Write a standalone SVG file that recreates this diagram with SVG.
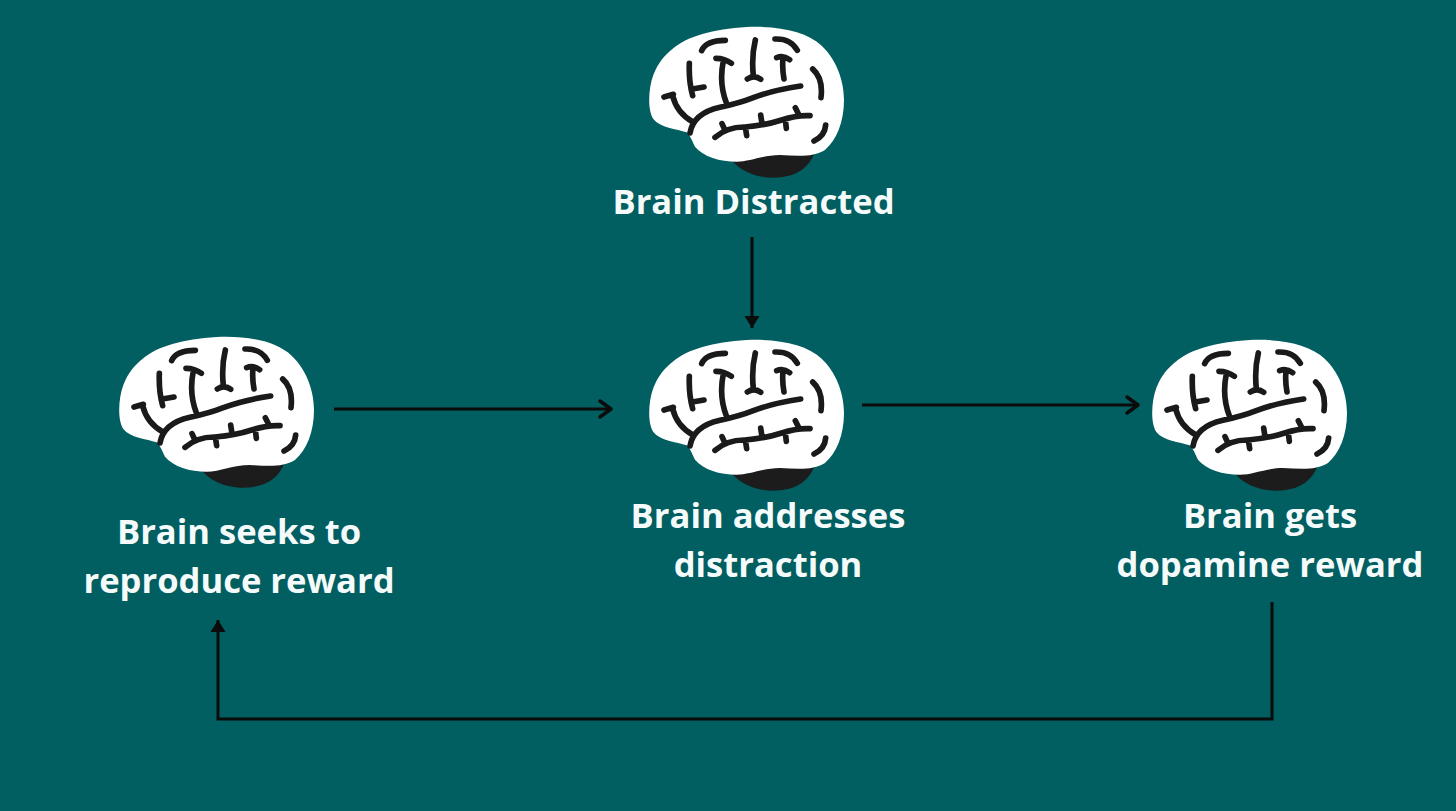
<svg xmlns="http://www.w3.org/2000/svg" xmlns:xlink="http://www.w3.org/1999/xlink" width="1456" height="811" viewBox="0 0 1456 811">
  <style>
    .bg { fill: #015e61; }
    .label { font-family: "Open Sans", "Noto Sans", "Liberation Sans", sans-serif; font-weight: 700; font-size: 34.6px; fill: #f5fbfb; text-anchor: middle; }
    .conn { fill: none; stroke: #0b0b0b; stroke-width: 3; stroke-linecap: butt; stroke-linejoin: miter; }
    .sulci { fill: none; stroke: #1a1a1a; stroke-width: 17; stroke-linecap: round; stroke-linejoin: round; }
  </style>
  <defs>
    <marker id="chevron" markerUnits="userSpaceOnUse" viewBox="-14 -10 16 20" refX="0" refY="0" markerWidth="16" markerHeight="20" orient="auto" overflow="visible">
      <path d="M-11,-8 L0,0 L-11,8" fill="none" stroke="#0b0b0b" stroke-width="3.5" stroke-linecap="round" stroke-linejoin="round"/>
    </marker>
    <marker id="tri" markerUnits="userSpaceOnUse" viewBox="-14 -10 16 20" refX="0" refY="0" markerWidth="16" markerHeight="20" orient="auto" overflow="visible">
      <path d="M-12,-7.5 L0,0 L-12,7.5 Z" fill="#0b0b0b"/>
    </marker>
    <g id="brain">
      <path d="M268,392 C285,430 340,458 400,458 C460,458 505,435 524,382 L400,365 Z" fill="#1c1c1c"/>
      <path d="M100,70 C140,35 220,12 320,6 C420,2 500,20 545,62 C585,100 612,160 612,225 C612,290 590,345 555,375 C520,398 470,392 420,390 C370,390 330,410 290,410 C240,410 190,395 165,365 C155,345 150,330 140,322 C110,312 60,308 40,282 C22,255 25,190 40,150 C55,112 75,90 100,70 Z" fill="#ffffff"/>
      <path class="sulci" d="M185,77 Q198,46 256,46 M405,42 Q452,40 472,76 M518,132 Q550,160 543,218 M557,300 Q555,332 522,348 M346,45 Q334,95 340,152 M322,162 Q342,148 362,163 M410,98 Q430,90 449,104 M429,100 Q426,130 432,162 M228,100 Q254,100 274,115 M250,108 Q236,175 260,236 M148,115 Q146,170 158,212 M157,192 L192,186 M150,324 Q160,265 240,247 Q300,234 340,218 Q400,195 482,183 M72,216 L100,208 M98,212 Q110,264 160,292 M225,337 Q262,305 315,306 Q380,300 425,285 Q470,270 510,272 M246,296 L256,318 M316,306 L320,332 M362,270 L366,296 M436,285 L439,310 M466,248 L478,272"/>
    </g>
  </defs>
  <rect class="bg" x="0" y="0" width="1456" height="811"/>

  <g id="connectors">
    <path id="c-left-middle" class="conn" d="M334,409 L611,409" marker-end="url(#chevron)"/>
    <path id="c-middle-right" class="conn" d="M862,405 L1138,405" marker-end="url(#chevron)"/>
    <path id="c-top-middle" class="conn" d="M752,237 L752,328" marker-end="url(#tri)"/>
    <path id="c-right-left" class="conn" d="M1272,602 L1272,719 L218,719 L218,620" marker-end="url(#tri)"/>
  </g>

  <g id="node-top">
    <use xlink:href="#brain" href="#brain" transform="translate(640,25) scale(0.33333)"/>
    <text class="label" x="753.5" y="214">Brain Distracted</text>
  </g>
  <g id="node-left">
    <use xlink:href="#brain" href="#brain" transform="translate(110,335) scale(0.33333)"/>
    <text class="label" x="239" y="544">Brain seeks to</text>
    <text class="label" x="239" y="593">reproduce reward</text>
  </g>
  <g id="node-middle">
    <use xlink:href="#brain" href="#brain" transform="translate(640,338) scale(0.33333)"/>
    <text class="label" x="768" y="528">Brain addresses</text>
    <text class="label" x="768" y="577">distraction</text>
  </g>
  <g id="node-right">
    <use xlink:href="#brain" href="#brain" transform="translate(1143,338) scale(0.33333)"/>
    <text class="label" x="1270" y="528">Brain gets</text>
    <text class="label" x="1270" y="577">dopamine reward</text>
  </g>
</svg>
